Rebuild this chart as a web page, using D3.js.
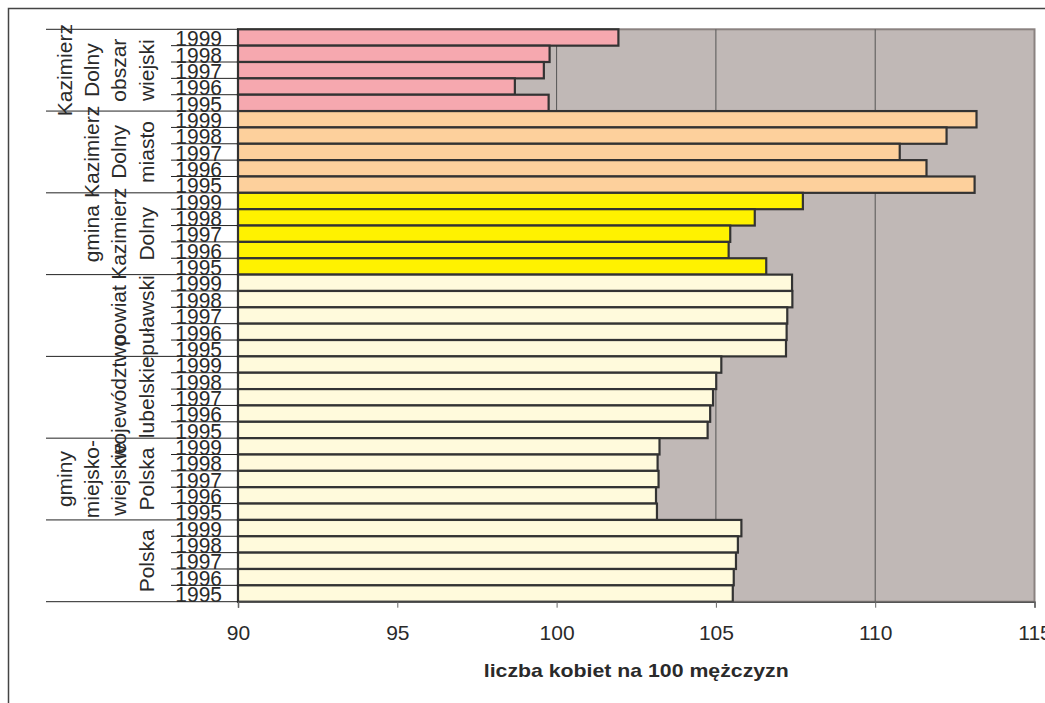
<!DOCTYPE html>
<html><head><meta charset="utf-8">
<script src="https://cdn.jsdelivr.net/npm/d3@7/dist/d3.min.js"></script>
<style>
html,body{margin:0;padding:0;background:#fff;}
svg{display:block;font-family:"Liberation Sans",Arial,sans-serif;}
</style></head>
<body>
<svg id="chart" width="1045" height="703"></svg>
<script>
// ---- data ----
const groups = [
  "Kazimierz Dolny obszar wiejski",
  "Kazimierz Dolny miasto",
  "gmina Kazimierz Dolny",
  "powiat puławski",
  "województwo lubelskie",
  "gminy miejsko-wiejskie Polska",
  "Polska"
];
const groupLabelLines = [
  ["Kazimierz","Dolny","obszar","wiejski"],
  ["Kazimierz","Dolny","miasto"],
  ["gmina","Kazimierz","Dolny"],
  ["powiat","puławski"],
  ["województwo","lubelskie"],
  ["gminy","miejsko-","wiejskie","Polska"],
  ["Polska"]
];
const years = ["1999","1998","1997","1996","1995"];
const valuesKDWies   = [101.94, 99.78, 99.60, 98.69, 99.75];
const valuesKDMiasto = [113.18, 112.24, 110.77, 111.61, 113.12];
const valuesGminaKD  = [107.73, 106.22, 105.45, 105.40, 106.58];
const valuesPowiat   = [107.39, 107.40, 107.24, 107.22, 107.20];
const valuesWoj      = [105.17, 105.01, 104.91, 104.82, 104.74];
const valuesGminyMW  = [103.23, 103.17, 103.20, 103.12, 103.15];
const valuesPolska   = [105.80, 105.69, 105.63, 105.56, 105.53];
const groupColors = ["#f6a8af","#fdd09c","#fff200","#fffadc","#fffadc","#fffadc","#fffadc"];
const xTicks = [90,95,100,105,110,115];
const gridValues = [95,100,105,110];
const axisTitle = "liczba kobiet na 100 mężczyzn";

const allValues = [valuesKDWies,valuesKDMiasto,valuesGminaKD,valuesPowiat,valuesWoj,valuesGminyMW,valuesPolska];
const rows = [];
groups.forEach((g,gi)=>{
  years.forEach((yr,yi)=>{
    rows.push({key:g+"|"+yr, group:g, gi:gi, year:yr, value:allValues[gi][yi]});
  });
});

// ---- layout ----
const svg = d3.select("#chart");
const pL = 238, pR = 1034.5, pT = 29.3, pB = 601.7;
const x = d3.scaleLinear().domain([90,115]).range([pL,pR]);
const y = d3.scaleBand().domain(rows.map(d=>d.key)).range([pT,pB]).padding(0);
const bw = y.bandwidth();

// outer frame
svg.append("rect").attr("x",8.5).attr("y",8.5).attr("width",1100).attr("height",800)
  .attr("fill","#fff").attr("stroke","#444").attr("stroke-width",1.5);

// plot background
svg.append("rect").attr("x",pL).attr("y",pT).attr("width",pR-pL).attr("height",pB-pT)
  .attr("fill","#c0b8b6").attr("stroke","#8a8280").attr("stroke-width",2);

// gridlines
svg.append("g").selectAll("line").data(gridValues).join("line")
  .attr("x1",d=>x(d)).attr("x2",d=>x(d)).attr("y1",pT).attr("y2",pB)
  .attr("stroke","#555").attr("stroke-width",1);

// bars
svg.append("g").selectAll("rect").data(rows).join("rect")
  .attr("x",x(90)).attr("y",d=>y(d.key))
  .attr("width",d=>x(d.value)-x(90)).attr("height",bw)
  .attr("fill",d=>groupColors[d.gi])
  .attr("stroke","#333").attr("stroke-width",2.2);

// x axis
const xAxis = d3.axisBottom(x).tickValues(xTicks).tickSize(6).tickPadding(17).tickFormat(d3.format("d"));
const gx = svg.append("g").attr("transform",`translate(0,${pB})`).call(xAxis);
gx.select(".domain").attr("stroke","#555").attr("stroke-width",1.5);
gx.selectAll(".tick line").attr("stroke","#666");
gx.selectAll(".tick text").attr("font-size",21).attr("fill","#2a2a2a")
  .attr("font-family","'Liberation Sans',Arial,sans-serif");

// left axis line
svg.append("line").attr("x1",pL).attr("x2",pL).attr("y1",pT).attr("y2",pB)
  .attr("stroke","#333").attr("stroke-width",1.5);

// year tick lines (band boundaries)
const boundaries = rows.map(d=>y(d.key)).concat([pB]);
svg.append("g").selectAll("line").data(boundaries).join("line")
  .attr("x1",(d,i)=> (i%5===0) ? 46 : 171).attr("x2",pL)
  .attr("y1",d=>d).attr("y2",d=>d)
  .attr("stroke","#222").attr("stroke-width",1);

// year labels (slightly stretched vertically as in reference)
svg.append("g").selectAll("text").data(rows).join("text")
  .attr("transform",d=>`translate(222,${y(d.key)+bw+0.5}) scale(1,1.09)`)
  .attr("text-anchor","end").attr("font-size",21).attr("fill","#2a2a2a")
  .text(d=>d.year);

// group labels (rotated)
const gLab = svg.append("g");
groups.forEach((g,gi)=>{
  const yTop = y(g+"|"+years[0]);
  const yBot = y(g+"|"+years[years.length-1]) + bw;
  const cy = (yTop+yBot)/2;
  const lines = groupLabelLines[gi];
  const n = lines.length;
  lines.forEach((ln,li)=>{
    const bx = 153.5 - (n-1-li)*27.2;
    gLab.append("text")
      .attr("transform",`translate(${bx},${cy}) rotate(-90)`)
      .attr("text-anchor","middle").attr("font-size",21).attr("fill","#2a2a2a")
      .text(ln);
  });
});

// axis title
svg.append("text").attr("x",(pL+pR)/2).attr("y",677.3)
  .attr("text-anchor","middle").attr("font-size",19).attr("font-weight","bold")
  .attr("fill","#2a2a2a").attr("textLength",305).attr("lengthAdjust","spacingAndGlyphs")
  .text(axisTitle);
</script>
</body></html>
